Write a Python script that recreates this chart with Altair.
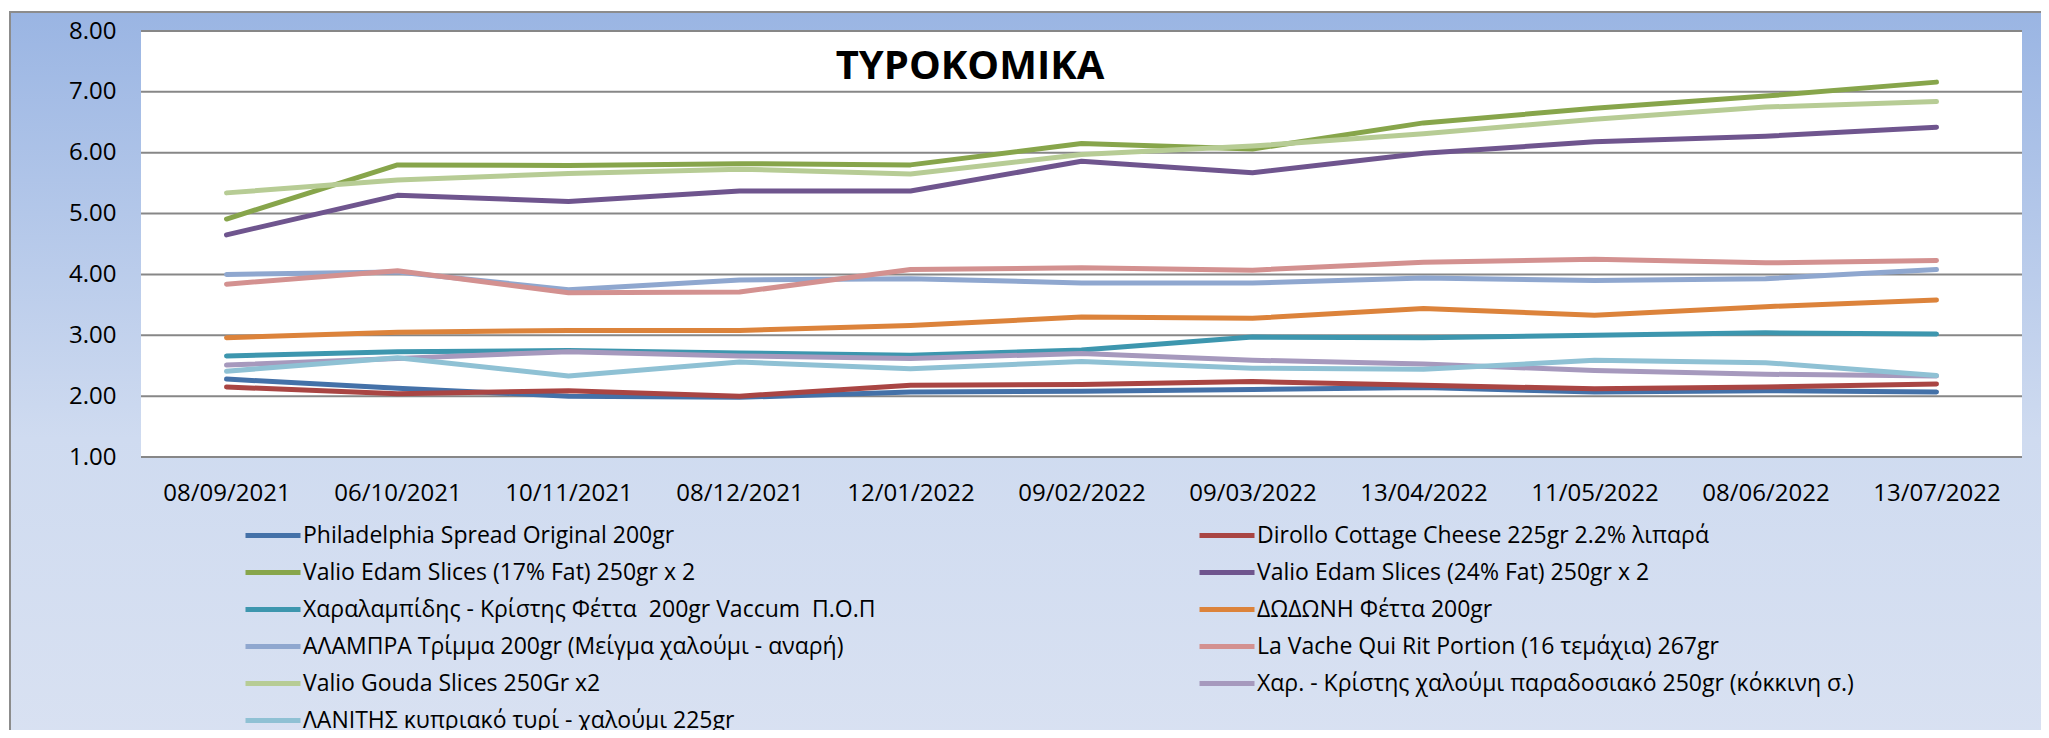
import altair as alt
import pandas as pd

# ---- data ----
dates = ["08/09/2021", "06/10/2021", "10/11/2021", "08/12/2021", "12/01/2022", "09/02/2022",
         "09/03/2022", "13/04/2022", "11/05/2022", "08/06/2022", "13/07/2022"]

series_names = [
    "Philadelphia Spread Original 200gr",
    "Dirollo Cottage Cheese 225gr 2.2% λιπαρά",
    "Valio Edam Slices (17% Fat) 250gr x 2",
    "Valio Edam Slices (24% Fat) 250gr x 2",
    "Χαραλαμπίδης - Κρίστης Φέττα\u00a0 200gr Vaccum\u00a0 Π.Ο.Π",
    "ΔΩΔΩΝΗ Φέττα 200gr",
    "ΑΛΑΜΠΡΑ Τρίμμα 200gr (Μείγμα χαλούμι - αναρή)",
    "La Vache Qui Rit Portion (16 τεμάχια) 267gr",
    "Valio Gouda Slices 250Gr x2",
    "Χαρ. - Κρίστης χαλούμι παραδοσιακό 250gr (κόκκινη σ.)",
    "ΛΑΝΙΤΗΣ κυπριακό τυρί - χαλούμι 225gr",
]

series_colors = ["#4471A8", "#A94543", "#87A54B", "#6F558E", "#3D96AE", "#DC833B",
                 "#8FA7CF", "#D39190", "#B7CC95", "#A699BD", "#8FC1D4"]

philadelphia = [2.28, 2.13, 2.00, 1.98, 2.07, 2.08, 2.11, 2.14, 2.07, 2.09, 2.07]
dirollo = [2.15, 2.04, 2.09, 2.00, 2.18, 2.19, 2.24, 2.18, 2.12, 2.15, 2.20]
edam17 = [4.91, 5.80, 5.79, 5.82, 5.80, 6.15, 6.06, 6.49, 6.73, 6.93, 7.16]
edam24 = [4.65, 5.30, 5.20, 5.37, 5.37, 5.86, 5.67, 5.99, 6.18, 6.27, 6.42]
feta_ck = [2.66, 2.73, 2.75, 2.71, 2.67, 2.76, 2.97, 2.96, 3.00, 3.04, 3.02]
dodoni = [2.96, 3.05, 3.08, 3.08, 3.16, 3.30, 3.28, 3.44, 3.33, 3.47, 3.58]
alambra = [4.00, 4.04, 3.75, 3.91, 3.93, 3.86, 3.86, 3.94, 3.90, 3.93, 4.08]
lavache = [3.84, 4.06, 3.70, 3.71, 4.08, 4.11, 4.07, 4.20, 4.25, 4.19, 4.23]
gouda = [5.34, 5.55, 5.66, 5.73, 5.65, 5.97, 6.11, 6.31, 6.55, 6.75, 6.84]
halloumi_ck = [2.51, 2.62, 2.73, 2.66, 2.62, 2.70, 2.59, 2.53, 2.42, 2.36, 2.33]
lanitis = [2.41, 2.63, 2.33, 2.56, 2.45, 2.57, 2.46, 2.44, 2.59, 2.55, 2.34]

y_ticks = [1, 2, 3, 4, 5, 6, 7, 8]
chart_title = "ΤΥΡΟΚΟΜΙΚΑ"

all_values = [philadelphia, dirollo, edam17, edam24, feta_ck, dodoni,
              alambra, lavache, gouda, halloumi_ck, lanitis]

rows = []
for name, vals in zip(series_names, all_values):
    for i, (d, v) in enumerate(zip(dates, vals)):
        rows.append({"date": d, "idx": i, "series": name, "price": v})
df = pd.DataFrame(rows)

W, H = 1881, 426
PAD = {"left": 133, "top": 23, "right": 19, "bottom": 273}
FONT = "Open Sans"

yscale = alt.Scale(domain=[1, 8], nice=False, zero=False)
yaxis = alt.Axis(title=None, values=y_ticks, format=".2f", ticks=False, domain=False,
                 grid=False, labelFont=FONT, labelFontSize=24, labelColor="black",
                 labelPadding=25, zindex=1)

# outer gradient panel
bg = alt.Chart(pd.DataFrame({"k": [0]})).mark_rect(
    fill=alt.LinearGradient(
        gradient="linear", x1=0, x2=0, y1=0, y2=1,
        stops=[alt.GradientStop(color="#9AB5E3", offset=0),
               alt.GradientStop(color="#CFDBF0", offset=0.55),
               alt.GradientStop(color="#DAE2F2", offset=1)]),
    stroke="#8C8C8C", strokeWidth=2,
).encode(x=alt.value(-131), x2=alt.value(W + 200), y=alt.value(-19), y2=alt.value(H + 330))

plot_bg = alt.Chart(pd.DataFrame({"k": [0]})).mark_rect(color="white").encode(
    x=alt.value(0), x2=alt.value(W), y=alt.value(0), y2=alt.value(H))

grid = alt.Chart(pd.DataFrame({"v": y_ticks})).mark_rule(color="#878787", strokeWidth=2).encode(
    y=alt.Y("v:Q", scale=yscale, axis=yaxis), x=alt.value(0), x2=alt.value(W))

lines = alt.Chart(df).mark_line(strokeWidth=5, strokeCap="round", strokeJoin="round").encode(
    x=alt.X("date:N", sort=dates, scale=alt.Scale(type="point", padding=0.5),
            axis=alt.Axis(title=None, labelAngle=0, ticks=False, domain=False, grid=False,
                          labelFont=FONT, labelFontSize=24, labelColor="black",
                          labelPadding=36, labelBaseline="middle", zindex=1)),
    y=alt.Y("price:Q", scale=yscale, axis=yaxis),
    color=alt.Color("series:N", sort=series_names,
                    scale=alt.Scale(domain=series_names, range=series_colors),
                    legend=alt.Legend(title=None, orient="none", legendX=102, legendY=491,
                                      direction="horizontal",
                                      columns=2, columnPadding=321, rowPadding=10,
                                      clipHeight=27,
                                      symbolType="stroke", symbolSize=3025, symbolStrokeWidth=5,
                                      labelFont=FONT, labelFontSize=23, labelColor="black",
                                      labelOffset=0, labelLimit=0, padding=0, zindex=1)),
    order=alt.Order("idx:Q"),
)

title_text = alt.Chart(pd.DataFrame({"t": [chart_title]})).mark_text(
    font=FONT, fontSize=40, fontWeight="bold", align="center", baseline="alphabetic", color="black"
).encode(text="t:N", x=alt.value(829), y=alt.value(48))

chart = alt.layer(bg, plot_bg, grid, lines, title_text).properties(
    width=W, height=H, padding=PAD, autosize=alt.AutoSizeParams(type="none")
).configure_view(strokeWidth=0)

chart.save("out.html", embed_options={"renderer": "svg", "actions": False})
